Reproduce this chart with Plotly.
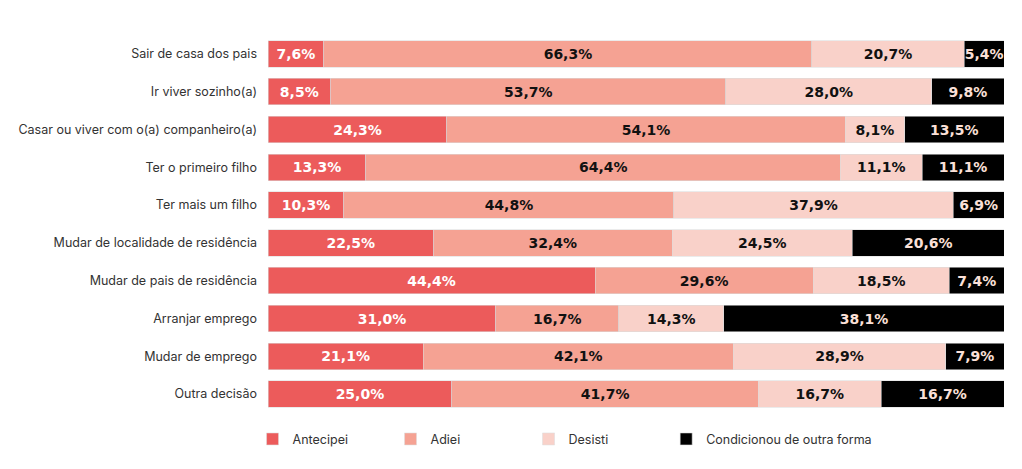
import plotly.graph_objects as go

categories = [
    "Sair de casa dos pais",
    "Ir viver sozinho(a)",
    "Casar ou viver com o(a) companheiro(a)",
    "Ter o primeiro filho",
    "Ter mais um filho",
    "Mudar de localidade de residência",
    "Mudar de pais de residência",
    "Arranjar emprego",
    "Mudar de emprego",
    "Outra decisão",
]
antecipei = [7.6, 8.5, 24.3, 13.3, 10.3, 22.5, 44.4, 31.0, 21.1, 25.0]
adiei = [66.3, 53.7, 54.1, 64.4, 44.8, 32.4, 29.6, 16.7, 42.1, 41.7]
desisti = [20.7, 28.0, 8.1, 11.1, 37.9, 24.5, 18.5, 14.3, 28.9, 16.7]
condicionou = [5.4, 9.8, 13.5, 11.1, 6.9, 20.6, 7.4, 38.1, 7.9, 16.7]

series = [
    ("Antecipei", antecipei, "#EC5B5B", "#ffffff", "legend"),
    ("Adiei", adiei, "#F5A293", "#111111", "legend"),
    ("Desisti", desisti, "#F9D1C9", "#111111", "legend"),
    ("Condicionou de outra forma", condicionou, "#000000", "#FBE0D8", "legend2"),
]

def fmt(v):
    return f"{v:.1f}".replace(".", ",") + "%"

fig = go.Figure()
for name, vals, color, tcolor, leg in series:
    fig.add_trace(go.Bar(
        y=categories, x=vals, name=name, orientation="h", legend=leg,
        marker=dict(color=color, line=dict(color="rgba(220,220,220,0.7)", width=0.8)),
        text=[fmt(v) for v in vals], textposition="inside",
        insidetextanchor="middle",
        textfont=dict(family="DejaVu Sans", size=14, color=tcolor, weight="bold"),
        hoverinfo="skip",
    ))

legend_common = dict(orientation="h", xanchor="left", y=-0.03, yanchor="top",
                     itemwidth=30, font=dict(size=12.5, color="#333333"),
                     traceorder="normal", bgcolor="rgba(0,0,0,0)")

fig.update_layout(
    barmode="stack", barnorm="percent", bargap=0.3,
    width=1006, height=461,
    margin=dict(l=258, r=10, t=27, b=56),
    paper_bgcolor="white", plot_bgcolor="white",
    font=dict(family="Inter", size=12.5, color="#333333"),
    uniformtext=dict(minsize=14, mode="show"),
    xaxis=dict(range=[0, 100], visible=False, fixedrange=True),
    yaxis=dict(autorange="reversed", showgrid=False, zeroline=False,
               ticks="", ticklabelstandoff=10, tickfont=dict(size=12.5, color="#333333")),
    legend=dict(x=-0.021, entrywidth=93, entrywidthmode="pixels", **legend_common),
    legend2=dict(x=0.541, **legend_common),
    showlegend=True,
)

fig.write_html("out.html")
